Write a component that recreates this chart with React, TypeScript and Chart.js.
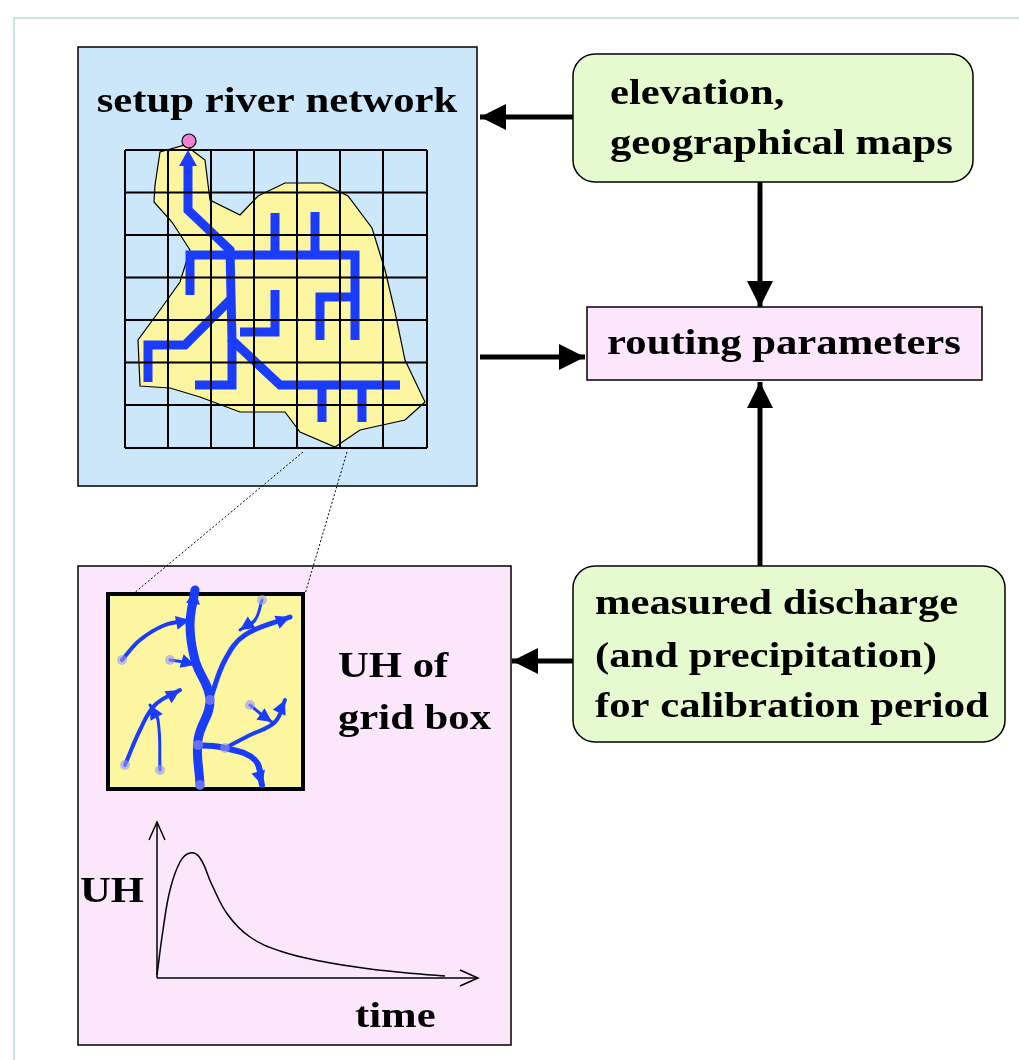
import React, { useEffect, useRef } from "react";
import { Chart, registerables } from "chart.js";
Chart.register(...registerables);

type P = [number, number];
const W = 1019, H = 1060;
const boxRiver = [78, 47, 477, 486];
const boxRouting = [587, 307, 982, 380];
const boxElev = [573, 54, 973, 182];
const boxMeas = [573, 566, 1005, 742];
const boxUH = [78, 566, 511, 1045];
const boxGrid = [108, 594, 303, 789];
const gridXs = [125, 168, 211, 254, 297, 340, 383, 427];
const gridYs = [150, 192.5, 235, 277.5, 320, 362.5, 405, 448];
const blob: P[] = [[155,185],[160,152],[185,145],[205,160],[210,200],[240,215],[258,196],[285,183],[322,183],[348,196],[372,228],[385,270],[395,312],[405,360],[425,402],[405,420],[360,430],[335,447],[300,432],[285,412],[240,412],[200,397],[170,388],[140,386],[138,340],[160,310],[180,282],[190,250],[172,222],[154,202]];
const rivers: P[][] = [
  [[188,160],[188,210],[230,250],[232,340],[280,385],[400,385]],
  [[190,295],[190,255],[355,255],[355,340]],
  [[275,213],[275,255]],
  [[315,212],[315,255]],
  [[230,300],[185,345],[148,345],[148,382]],
  [[195,385],[232,385],[232,340]],
  [[275,290],[275,332],[240,332]],
  [[320,340],[320,297],[352,297]],
  [[322,385],[322,422]],
  [[362,385],[362,422]],
];
const branches: { pts: P[]; w: number }[] = [
  { pts: [[200,785],[198,740],[210,700],[195,660],[190,625],[195,590]], w: 9 },
  { pts: [[210,700],[225,660],[245,635],[290,617]], w: 5 },
  { pts: [[122,660],[140,640],[165,625],[190,620]], w: 4 },
  { pts: [[125,765],[140,730],[155,705],[180,690]], w: 4 },
  { pts: [[198,745],[225,748],[255,760],[262,785]], w: 6 },
  { pts: [[225,748],[250,735],[275,722],[285,700]], w: 4 },
  { pts: [[160,770],[158,720],[150,705]], w: 3 },
  { pts: [[262,600],[255,620],[240,630]], w: 3 },
  { pts: [[170,660],[185,662],[195,665]], w: 3 },
  { pts: [[250,705],[262,715],[272,722]], w: 3 },
];
const dotted: P[][] = [[[303,452],[133,594]], [[347,452],[305,594]]];
const arrows: P[][] = [
  [[573,117],[480,117]],
  [[760,182],[760,307]],
  [[480,357],[585,357]],
  [[760,566],[760,382]],
  [[573,661],[512,661]],
];
const uhAxes: P[][] = [[[157,978],[157,822]], [[157,978],[478,978]]];
const uhCurve: P[] = [[157,975],[163,930],[170,890],[180,862],[190,853],[200,858],[212,885],[228,915],[250,937],[280,951],[320,961],[370,969],[420,974],[445,976]];
const texts: { t: string; x: number; y: number; a: CanvasTextAlign }[] = [
  { t: "setup river network", x: 277, y: 103, a: "center" },
  { t: "elevation,", x: 610, y: 95, a: "left" },
  { t: "geographical maps", x: 610, y: 145, a: "left" },
  { t: "routing parameters", x: 784, y: 345, a: "center" },
  { t: "measured discharge", x: 595, y: 605, a: "left" },
  { t: "(and precipitation)", x: 595, y: 658, a: "left" },
  { t: "for calibration period", x: 595, y: 708, a: "left" },
  { t: "UH of", x: 338, y: 668, a: "left" },
  { t: "grid box", x: 338, y: 720, a: "left" },
  { t: "UH", x: 80, y: 893, a: "left" },
  { t: "time", x: 355, y: 1018, a: "left" },
];

const toXY = (p: P) => ({ x: p[0], y: p[1] });
const line = (pts: P[], color: string, width: number, dash: number[] = []) => ({
  type: "line" as const, data: pts.map(toXY), borderColor: color, borderWidth: width,
  borderDash: dash, pointRadius: 0, fill: false, tension: 0, borderCapStyle: "butt" as const,
  borderJoinStyle: "miter" as const,
});

export default function App() {
  const ref = useRef<HTMLCanvasElement>(null);
  useEffect(() => {
    document.body.style.margin = "0";
    const datasets: any[] = [];
    gridXs.forEach((x) => datasets.push(line([[x, gridYs[0]], [x, gridYs[7]]], "#000", 2)));
    gridYs.forEach((y) => datasets.push(line([[gridXs[0], y], [gridXs[7], y]], "#000", 2)));
    rivers.forEach((r) => datasets.push(line(r, "#1a3cff", 9)));
    branches.forEach((b) => datasets.push({ ...line(b.pts, "#1a3cff", b.w), tension: 0.4, borderCapStyle: "round" }));
    dotted.forEach((d) => datasets.push(line(d, "#000", 1, [2, 2])));
    arrows.forEach((a) => datasets.push(line(a, "#000", 5)));
    uhAxes.forEach((a) => datasets.push(line(a, "#000", 1.5)));
    datasets.push({ ...line(uhCurve, "#000", 1.5), tension: 0.4 });

    const plugin = {
      id: "diagram",
      beforeDatasetsDraw(c: any) {
        const { ctx, scales } = c;
        const X = (v: number) => scales.x.getPixelForValue(v);
        const Y = (v: number) => scales.y.getPixelForValue(v);
        const rect = (b: number[], fill: string, stroke: string, lw: number, r = 0) => {
          ctx.save();
          ctx.beginPath();
          ctx.roundRect(X(b[0]), Y(b[1]), X(b[2]) - X(b[0]), Y(b[3]) - Y(b[1]), r);
          ctx.fillStyle = fill; ctx.fill();
          ctx.lineWidth = lw; ctx.strokeStyle = stroke; ctx.stroke();
          ctx.restore();
        };
        ctx.save();
        ctx.strokeStyle = "#c6e6e6"; ctx.lineWidth = 2;
        ctx.beginPath(); ctx.moveTo(X(14), Y(1060)); ctx.lineTo(X(14), Y(18)); ctx.lineTo(X(1019), Y(18)); ctx.stroke();
        ctx.restore();
        rect(boxRiver, "#cce6fa", "#000", 1.5);
        rect(boxRouting, "#fce6fc", "#000", 1.5);
        rect(boxElev, "#e6fad0", "#000", 1.5, 22);
        rect(boxMeas, "#e6fad0", "#000", 1.5, 22);
        rect(boxUH, "#fce6fc", "#000", 1.5);
        rect(boxGrid, "#fcf6a0", "#000", 4);
        ctx.save();
        ctx.beginPath();
        blob.forEach((p, i) => (i ? ctx.lineTo(X(p[0]), Y(p[1])) : ctx.moveTo(X(p[0]), Y(p[1]))));
        ctx.closePath();
        ctx.fillStyle = "#fcf6a0"; ctx.fill();
        ctx.strokeStyle = "#000"; ctx.lineWidth = 1.2; ctx.stroke();
        ctx.restore();
      },
      afterDatasetsDraw(c: any) {
        const { ctx, scales } = c;
        const X = (v: number) => scales.x.getPixelForValue(v);
        const Y = (v: number) => scales.y.getPixelForValue(v);
        const head = (from: P, to: P, len: number, half: number, color: string, open = false) => {
          const ang = Math.atan2(Y(to[1]) - Y(from[1]), X(to[0]) - X(from[0]));
          const tx = X(to[0]), ty = Y(to[1]);
          ctx.save(); ctx.translate(tx, ty); ctx.rotate(ang);
          ctx.beginPath(); ctx.moveTo(-len, -half); ctx.lineTo(0, 0); ctx.lineTo(-len, half);
          if (open) { ctx.strokeStyle = color; ctx.lineWidth = 1.5; ctx.stroke(); }
          else { ctx.closePath(); ctx.fillStyle = color; ctx.fill(); }
          ctx.restore();
        };
        arrows.forEach((a) => head(a[0], a[1], 26, 13, "#000"));
        uhAxes.forEach((a) => head(a[0], a[1], 18, 8, "#000", true));
        head([188, 200], [188, 150], 16, 9, "#1a3cff");
        branches.forEach((b) => {
          const n = b.pts.length;
          head(b.pts[n - 2], b.pts[n - 1], 14, 7, "#1a3cff");
          const s = b.pts[0];
          ctx.save(); ctx.fillStyle = "rgba(150,150,255,0.6)";
          ctx.beginPath(); ctx.arc(X(s[0]), Y(s[1]), 5, 0, Math.PI * 2); ctx.fill(); ctx.restore();
        });
        ctx.save();
        ctx.beginPath(); ctx.arc(X(189), Y(141), 7, 0, Math.PI * 2);
        ctx.fillStyle = "#f080d0"; ctx.fill(); ctx.strokeStyle = "#000"; ctx.lineWidth = 1.2; ctx.stroke();
        ctx.fillStyle = "#000"; ctx.font = "bold 35px 'Liberation Serif', serif"; ctx.textBaseline = "middle";
        const sx = 1.22;
        texts.forEach((t) => {
          ctx.save();
          ctx.translate(X(t.x), Y(t.y)); ctx.scale(sx, 1);
          ctx.textAlign = t.a; ctx.fillText(t.t, 0, 0);
          ctx.restore();
        });
        ctx.restore();
      },
    };

    const chart = new Chart(ref.current!, {
      type: "line",
      data: { datasets },
      options: {
        animation: false, responsive: false, maintainAspectRatio: false,
        layout: { padding: 0 },
        plugins: { legend: { display: false }, tooltip: { enabled: false } },
        scales: {
          x: { type: "linear", min: 0, max: W, display: false },
          y: { type: "linear", min: 0, max: H, reverse: true, display: false },
        },
      },
      plugins: [plugin],
    });
    return () => chart.destroy();
  }, []);
  return <canvas ref={ref} width={W} height={H} style={{ display: "block", width: W, height: H }} />;
}
